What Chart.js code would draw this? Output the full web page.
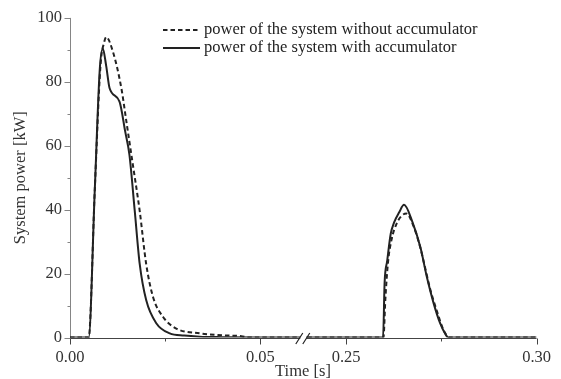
<!DOCTYPE html>
<html>
<head>
<meta charset="utf-8">
<script src="https://cdn.jsdelivr.net/npm/chart.js@4/dist/chart.umd.min.js"></script>
<style>
  html, body { margin: 0; padding: 0; background: #fff; }
  canvas { display: block; }
</style>
</head>
<body>
<canvas id="c" width="561" height="379"></canvas>
<script>
// Power of the system without the accumulator (dashed)
const timeWithout = [0.000, 0.0049, 0.0065, 0.0080, 0.0090, 0.0095, 0.0113, 0.0135, 0.0148, 0.0165, 0.0183,
  0.0200, 0.0218, 0.0244, 0.0279, 0.0340, 0.0400, 0.0450, 0.0470, 0.0500,
  0.2500, 0.2598, 0.2603, 0.2610, 0.2620, 0.2632, 0.2645, 0.2658, 0.2678, 0.2695, 0.2708,
  0.2721, 0.2739, 0.2755, 0.2766, 0.2772, 0.3000];
const powerWithout = [0, 0, 46.0, 85.0, 92.5, 94.0, 89.3, 77.9, 67.6, 54.1, 39.6,
  23.0, 12.7, 6.5, 2.8, 1.3, 0.7, 0.4, 0, 0,
  0, 0, 12.0, 23.6, 31.0, 35.5, 38.0, 38.8, 34.5, 28.0, 21.5,
  15.0, 8.0, 2.5, 0.4, 0, 0];

// Power of the system with the accumulator (solid)
const timeWith = [0.000, 0.0049, 0.0065, 0.0078, 0.0086, 0.0095, 0.0104, 0.0130, 0.0145, 0.0156, 0.0170,
  0.0183, 0.0200, 0.0227, 0.0262, 0.0300, 0.0340, 0.0400, 0.0500,
  0.2500, 0.2597, 0.2601, 0.2608, 0.2617, 0.2626, 0.2639, 0.2652, 0.2673, 0.2695, 0.2712,
  0.2730, 0.2747, 0.2762, 0.2768, 0.3000];
const powerWith = [0, 0, 46.0, 83.6, 90.4, 85.0, 78.0, 73.8, 64.4, 57.2, 39.6,
  23.0, 11.7, 4.4, 1.3, 0.6, 0.25, 0.1, 0,
  0, 0, 17.0, 24.1, 32.4, 36.0, 39.1, 41.5, 36.5, 28.2, 18.9,
  10.6, 4.4, 0.8, 0, 0];

const seriesLabels = ['power of the system without accumulator', 'power of the system with accumulator'];
const xTickTimes = [0.00, 0.05, 0.25, 0.30];
const xMinorTimes = [0.025, 0.275];
const yTickValues = [0, 20, 40, 60, 80, 100];
const yMinorValues = [10, 30, 50, 70, 90];

// Broken time axis: 0.05 .. 0.25 s is collapsed into a short gap
const BREAK_START = 0.05, BREAK_END = 0.25, BREAK_WIDTH = 0.0225;
const axisPos = t => (t <= BREAK_START ? t : t - (BREAK_END - BREAK_START) + BREAK_WIDTH);
const AXIS_MAX = axisPos(0.30);

const toPoints = (times, values) => times.map((t, i) => ({ x: axisPos(t), y: values[i] }));

const FONT = '"Liberation Serif", "Times New Roman", serif';
const INK = '#222';
const TEXT = '#333';
const AXIS_GRAY = '#858585';

const frame = {
  id: 'frame',
  beforeDatasetsDraw(chart) {
    const { ctx, scales: { x, y } } = chart;
    const x0 = Math.round(x.left) + 0.5;
    const yb = Math.round(y.getPixelForValue(0)) + 0.5;
    ctx.save();
    ctx.lineWidth = 1;
    // y axis line and ticks
    ctx.strokeStyle = AXIS_GRAY;
    ctx.beginPath();
    ctx.moveTo(x0, y.getPixelForValue(100));
    ctx.lineTo(x0, yb);
    yTickValues.forEach(v => { const p = Math.round(y.getPixelForValue(v)) + 0.5; ctx.moveTo(x0 - 6, p); ctx.lineTo(x0, p); });
    yMinorValues.forEach(v => { const p = Math.round(y.getPixelForValue(v)) + 0.5; ctx.moveTo(x0 - 3, p); ctx.lineTo(x0, p); });
    ctx.stroke();
    // x axis line and ticks
    ctx.strokeStyle = '#444';
    ctx.beginPath();
    ctx.moveTo(x0, yb);
    ctx.lineTo(x.getPixelForValue(AXIS_MAX), yb);
    xTickTimes.forEach(t => { const p = Math.round(x.getPixelForValue(axisPos(t))) + 0.5; ctx.moveTo(p, yb); ctx.lineTo(p, yb + 6); });
    xMinorTimes.forEach(t => { const p = Math.round(x.getPixelForValue(axisPos(t))) + 0.5; ctx.moveTo(p, yb); ctx.lineTo(p, yb + 3); });
    ctx.stroke();
    ctx.restore();
  },
  afterDraw(chart) {
    const { ctx, scales: { x, y } } = chart;
    const yb = Math.round(y.getPixelForValue(0)) + 0.5;
    const mid = x.getPixelForValue(BREAK_START + BREAK_WIDTH / 2);
    ctx.save();
    // axis break marks
    ctx.fillStyle = '#fff';
    ctx.fillRect(mid - 3, yb - 3, 6, 6);
    ctx.strokeStyle = INK;
    ctx.lineWidth = 1.2;
    ctx.beginPath();
    [-4, 3].forEach(d => {
      ctx.moveTo(mid + d - 3.5, yb + 5.5);
      ctx.lineTo(mid + d + 3.5, yb - 5.5);
    });
    ctx.stroke();

    // legend
    const ds = chart.data.datasets;
    const rows = [30, 48];
    ds.forEach((d, i) => {
      ctx.strokeStyle = d.borderColor;
      ctx.lineWidth = d.borderWidth;
      ctx.setLineDash(d.borderDash || []);
      ctx.beginPath();
      ctx.moveTo(163, rows[i]);
      ctx.lineTo(200, rows[i]);
      ctx.stroke();
    });
    ctx.setLineDash([]);
    ctx.fillStyle = INK;
    ctx.font = '16.5px ' + FONT;
    ctx.textAlign = 'left';
    ctx.textBaseline = 'middle';
    ds.forEach((d, i) => ctx.fillText(d.label, 204, rows[i]));

    // axis titles
    ctx.fillStyle = TEXT;
    ctx.textAlign = 'center';
    ctx.fillText('Time [s]', 303, 372);
    ctx.translate(21, (y.top + y.bottom) / 2);
    ctx.rotate(-Math.PI / 2);
    ctx.fillText('System power [kW]', 0, 0);
    ctx.restore();
  }
};

new Chart(document.getElementById('c'), {
  type: 'line',
  data: {
    datasets: [
      {
        label: seriesLabels[0],
        data: toPoints(timeWithout, powerWithout),
        borderColor: INK,
        borderWidth: 2,
        borderDash: [4.5, 3],
        pointRadius: 0,
        cubicInterpolationMode: 'monotone',
        fill: false
      },
      {
        label: seriesLabels[1],
        data: toPoints(timeWith, powerWith),
        borderColor: INK,
        borderWidth: 2,
        pointRadius: 0,
        cubicInterpolationMode: 'monotone',
        fill: false
      }
    ]
  },
  options: {
    responsive: false,
    animation: false,
    layout: { padding: { left: 0, right: 24, top: 15.5, bottom: 0 } },
    plugins: { legend: { display: false }, tooltip: { enabled: false } },
    scales: {
      x: {
        type: 'linear',
        min: 0,
        max: AXIS_MAX,
        grid: { display: false, drawTicks: false },
        border: { display: false },
        afterBuildTicks: scale => { scale.ticks = xTickTimes.map(t => ({ value: axisPos(t) })); },
        afterFit: scale => { scale.height = 41.5; },
        ticks: {
          autoSkip: false,
          maxRotation: 0,
          padding: 10,
          color: TEXT,
          font: { family: FONT, size: 16.5 },
          callback: v => {
            const t = xTickTimes.find(tt => Math.abs(axisPos(tt) - v) < 1e-6);
            return t === undefined ? '' : t.toFixed(2);
          }
        }
      },
      y: {
        min: 0,
        max: 100,
        grid: { display: false, drawTicks: false },
        border: { display: false },
        afterBuildTicks: scale => { scale.ticks = yTickValues.map(v => ({ value: v })); },
        afterFit: scale => { scale.width = 70; },
        ticks: {
          padding: 8,
          color: TEXT,
          font: { family: FONT, size: 16.5 }
        }
      }
    }
  },
  plugins: [frame]
});
</script>
</body>
</html>
